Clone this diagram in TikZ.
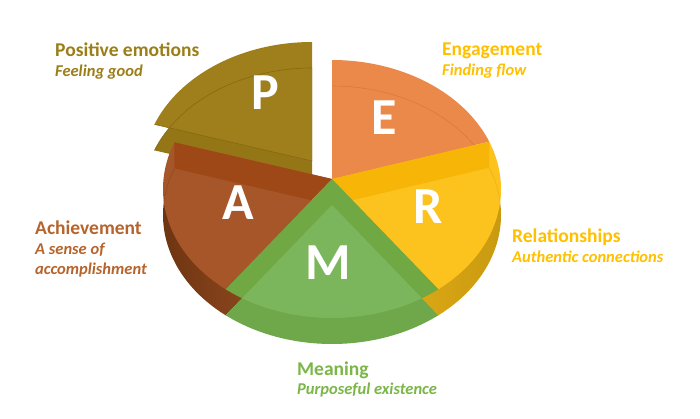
\documentclass[tikz,border=0pt]{standalone}
\usepackage{fontspec}
\setmainfont{Carlito}
\definecolor{Pcol}{HTML}{9F7F1B}
\definecolor{Pwall}{HTML}{957617}
\definecolor{Pline}{HTML}{86690F}
\definecolor{Ecol}{HTML}{EA894A}
\definecolor{Ewall}{HTML}{DD7A3C}
\definecolor{Eline}{HTML}{D97A3E}
\definecolor{Rcol}{HTML}{FCC21E}
\definecolor{Rband}{HTML}{F6B507}
\definecolor{Rwall}{HTML}{EDB419}
\definecolor{Rwalldark}{HTML}{C99A10}
\definecolor{Rline}{HTML}{EFB214}
\definecolor{Mcol}{HTML}{7BB65C}
\definecolor{Mband}{HTML}{70A844}
\definecolor{Mwall}{HTML}{6EA84A}
\definecolor{Acol}{HTML}{A65628}
\definecolor{Aband}{HTML}{9E4818}
\definecolor{Adark}{HTML}{6E3512}
\definecolor{Aline}{HTML}{944A1E}
\definecolor{Ptext}{HTML}{9C7E18}
\definecolor{Etext}{HTML}{FFC000}
\definecolor{Mtext}{HTML}{7AB648}
\definecolor{Atext}{HTML}{B6642C}
\begin{document}
\begin{tikzpicture}[x=1pt,y=-1pt,
  pie sect/.style n args={4}{insert path={({332+#1},{179+#2}) -- plot[domain=#3:#4,samples=60] ({332+#1+169*cos(\x)},{189+#2-129*sin(\x)}) -- cycle}},
  faint/.style={line width=0.6pt},
  letter/.style={text=white,font=\fontsize{52}{52}\selectfont\bfseries,inner sep=0pt},
  title/.style={anchor=base west,inner sep=0pt,font=\fontsize{19.5}{20}\selectfont\bfseries},
  sub/.style={anchor=base west,inner sep=0pt,font=\fontsize{16.5}{17}\selectfont\bfseries\itshape}]
\fill[white] (0,0) rectangle (700,418);
\useasboundingbox (0,0) rectangle (700,418);
% P slice (exploded)
\fill[Pwall, pie sect={-20}{8}{90}{158.8}];
\fill[Pcol, pie sect={-20}{-18}{90}{158.8}];
\draw[Pline,faint] plot[domain=90:158.8,samples=50] ({312+169*cos(\x)},{197-129*sin(\x)});
\draw[Pline,faint] (312,161) -- (154.4,124.4);
% E slice
\fill[Ewall, pie sect={0}{26}{21.5}{90}];
\fill[Ecol, pie sect={0}{0}{21.5}{90}];
\draw[Eline,faint] plot[domain=21.5:90,samples=50] ({332+169*cos(\x)},{215-129*sin(\x)});
% A slice
\shade[left color=Adark,right color=Acol, pie sect={0}{26}{158.8}{231}];
\fill[Acol, pie sect={0}{0}{158.8}{231}];
\begin{scope}
\clip[pie sect={0}{0}{158.8}{231}];
\fill[Aband] (332,179) -- (174.4,142.4) -- (174.4,168.4) -- (332,205) -- cycle;
\draw[Aline,faint] plot[domain=158.8:190,samples=30] ({332+169*cos(\x)},{215-129*sin(\x)});
\end{scope}
% R slice
\shade[left color=Rwall,right color=Rwalldark, pie sect={0}{26}{-51}{21.5}];
\fill[Rcol, pie sect={0}{0}{-51}{21.5}];
\begin{scope}
\clip[pie sect={0}{0}{-51}{21.5}];
\fill[Rband] (332,179) -- (489.2,141.7) -- (489.2,167.7) -- (332,205) -- cycle;
\draw[Rline,faint] plot[domain=-5:21.5,samples=30] ({332+169*cos(\x)},{215-129*sin(\x)});
\end{scope}
% M slice
\fill[Mwall, pie sect={0}{26}{-129}{-51}];
\fill[Mband, pie sect={0}{0}{-129}{-51}];
\begin{scope}
\clip[pie sect={0}{0}{-129}{-51}];
\fill[Mcol, pie sect={0}{26}{-129}{-51}];
\end{scope}
% letters
\node[letter] (lP) at (265,93) {P};
\node[letter] (lE) at (384,118) {E};
\node[letter] (lA) at (238,203) {A};
\node[letter] (lR) at (428,207) {R};
\node[letter] (lM) at (328,263) {M};
% labels
\node[title,text=Ptext] (tP) at (55,56) {Positive emotions};
\node[sub,text=Ptext] (sP) at (55,76) {Feeling good};
\node[title,text=Etext] (tE) at (442,55) {Engagement};
\node[sub,text=Etext] (sE) at (442,75) {Finding flow};
\node[title,text=Etext] (tR) at (512,242) {Relationships};
\node[sub,text=Etext] (sR) at (512,262) {Authentic connections};
\node[title,text=Atext] (tA) at (35,234) {Achievement};
\node[sub,text=Atext] (sA1) at (35,254) {A sense of};
\node[sub,text=Atext] (sA2) at (35,274) {accomplishment};
\node[title,text=Mtext] (tM) at (297,375) {Meaning};
\node[sub,text=Mtext] (sM) at (297,394) {Purposeful existence};
\end{tikzpicture}
\end{document}
